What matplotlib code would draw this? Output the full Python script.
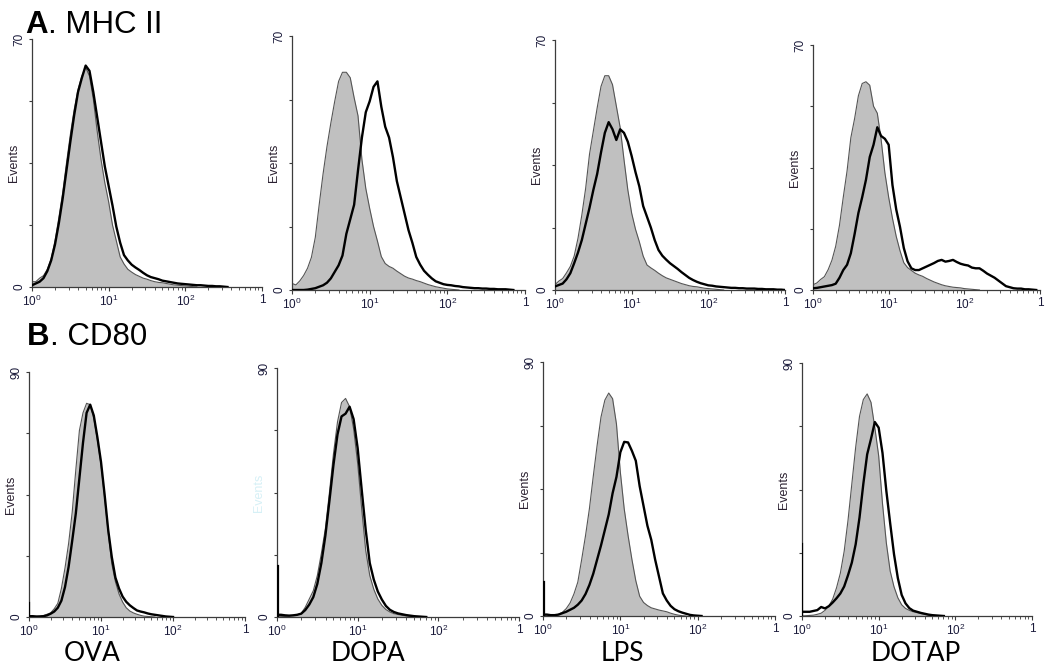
import numpy as np
import matplotlib
matplotlib.use("Agg")
import matplotlib.pyplot as plt
from matplotlib.ticker import FixedLocator, NullFormatter, FixedFormatter

plt.rcParams['font.family'] = ['Liberation Sans', 'DejaVu Sans']
plt.rcParams['mathtext.fontset'] = 'custom'
plt.rcParams['mathtext.rm'] = 'Liberation Sans'
plt.rcParams['mathtext.it'] = 'Liberation Sans'
plt.rcParams['mathtext.bf'] = 'Liberation Sans:bold'
plt.rcParams['mathtext.default'] = 'regular'

# ---------------- data ----------------
# channel positions (log10 of fluorescence intensity)
LOG_FLUOR = [0.00, 0.05, 0.10, 0.15, 0.20, 0.25, 0.30, 0.35, 0.40, 0.45,
             0.50, 0.55, 0.60, 0.65, 0.70, 0.75, 0.80, 0.85, 0.90, 0.95,
             1.00, 1.05, 1.10, 1.15, 1.20, 1.25, 1.30, 1.35, 1.40, 1.45,
             1.50, 1.55, 1.60, 1.65, 1.70, 1.75, 1.80, 1.85, 1.90, 1.95,
             2.00, 2.05, 2.10, 2.15, 2.20, 2.25, 2.30, 2.35, 2.40, 2.45,
             2.50, 2.55, 2.60, 2.65, 2.70, 2.75, 2.80, 2.85, 2.90, 2.95, 3.00]

TREATMENTS = ["OVA", "DOPA", "LPS", "DOTAP"]
MARKERS = ["MHC II", "CD80"]
PANEL_LETTERS = ["A", "B"]
Y_MAX = [70, 90]
X_TICK_LABELS = ["$10^{0}$", "$10^{1}$", "$10^{2}$", "1"]

# Row A: MHC II  (gray = control, black = treated)
MHC_CTRL_OVA = [1.5, 1.5, 2.5, 3.2, 5, 8, 13, 19.5, 26.5, 35, 43, 50, 55.7, 59.5, 62, 59.5, 53, 44, 36, 29.4,
                24, 17.5, 13, 8.5, 6.5, 5, 4.2, 3.5, 3, 2.5, 2.2, 1.8, 1.5, 1.3, 1.2, 1.0, 0.8, 0.6, 0.5, 0.4,
                0.3, 0.2, 0.1, 0]
MHC_TREAT_OVA = [0.5, 1, 1.5, 2.5, 4.5, 7.5, 12, 18, 25, 33, 41, 48.5, 55, 59, 62.5, 61, 55, 48, 41, 34,
                 28.5, 23, 17, 12.5, 9, 7.5, 6.3, 5.5, 4.8, 4, 3.3, 2.8, 2.5, 2.2, 1.8, 1.6, 1.4, 1.2, 1.0, 0.9,
                 0.8, 0.7, 0.6, 0.5, 0.5, 0.4, 0.3, 0.3, 0.2, 0.2, 0.1, 0]
MHC_CTRL_DOPA = [1.8, 1.4, 2.5, 4, 6, 9, 14.5, 23.5, 32, 39.5, 46, 52, 57.5, 60, 60, 58.5, 53, 48, 36, 28,
                 22.5, 17.5, 13.5, 9.2, 7.3, 6.5, 6, 5.2, 4.5, 3.8, 3.3, 3.0, 2.6, 2.3, 1.9, 1.5, 1.2, 0.9, 0.7, 0.5,
                 0.3, 0.2, 0.1, 0]
MHC_TREAT_DOPA = [0, 0, 0, 0, 0.1, 0.3, 0.5, 0.9, 1.3, 2, 3.2, 5, 6.8, 9.5, 15.5, 19.5, 23.5, 33, 42, 49,
                  52, 56, 57.5, 50.5, 45, 42, 36.6, 30, 25.5, 21, 16.5, 13, 9.1, 7, 5.3, 4.2, 3.2, 2.4, 2.0, 1.6,
                  1.4, 1.3, 1.1, 1.0, 0.8, 0.7, 0.6, 0.5, 0.5, 0.4, 0.4, 0.3, 0.3, 0.2, 0.2, 0.2, 0.1, 0]
MHC_CTRL_LPS = [1.5, 2.5, 3.2, 4.8, 6.6, 9.5, 14.5, 21, 28.5, 38, 44.5, 51, 57, 60, 60, 57.5, 51.5, 45.5, 36.5, 28,
                21.5, 17, 13.5, 9.5, 7, 6.2, 5.5, 4.7, 4, 3.4, 3, 2.6, 2.2, 1.8, 1.5, 1.2, 1.0, 0.9, 0.7, 0.5,
                0.4, 0.3, 0.2, 0.1, 0]
MHC_TREAT_LPS = [1.0, 1.4, 1.8, 3, 4.7, 7.5, 10.5, 14, 18.5, 23, 28, 32.5, 38.5, 44, 47, 45, 42, 45, 44, 41.5,
                 37.5, 33, 29, 23.5, 20.5, 17.5, 14, 11.2, 9.6, 8.5, 7.5, 6.7, 5.9, 5, 4.2, 3.4, 2.8, 2.3, 1.9, 1.6,
                 1.3, 1.2, 1.0, 0.9, 0.8, 0.7, 0.6, 0.6, 0.5, 0.5, 0.4, 0.4, 0.4, 0.3, 0.3, 0.2, 0.2, 0.2, 0.1, 0.1, 0]
MHC_CTRL_DOTAP = [1.5, 2.0, 3, 3.8, 5.8, 8.5, 12.5, 18.5, 26.5, 34, 43.5, 49, 55.5, 59, 59.5, 58.5, 52.5, 50.5, 43, 33.5,
                  26.5, 20.5, 15.3, 11.2, 7.8, 6.4, 5.6, 4.8, 4.3, 3.9, 3.3, 2.8, 2.3, 1.9, 1.5, 1.2, 1.0, 0.8, 0.7, 0.6,
                  0.4, 0.3, 0.2, 0.1, 0]
MHC_TREAT_DOTAP = [0.5, 0.6, 0.8, 1.0, 1.2, 1.4, 1.8, 3.5, 5.7, 7.2, 10.5, 16, 22, 26.5, 31.5, 38, 41.5, 46.5, 44, 43.2,
                   41.5, 30, 23, 18, 12, 8.2, 6.2, 5.7, 5.7, 6.2, 6.7, 7.2, 7.7, 8.3, 8.6, 8.1, 8.3, 8.6, 8.0, 7.5,
                   7.2, 7.0, 6.4, 6.2, 6.2, 5.5, 4.7, 4.1, 3.5, 2.7, 1.9, 1.1, 0.8, 0.5, 0.4, 0.4, 0.2, 0.2, 0.1, 0]

# Row B: CD80
CD80_CTRL_OVA = [0, 0, 0.1, 0.3, 0.5, 1.0, 1.5, 3, 5, 10.5, 18, 27, 38.5, 54, 68.5, 75, 78.5, 78, 73, 65,
                 56, 44, 31, 19.5, 13, 8.5, 5.5, 3.4, 2.2, 1.5, 1.0, 0.6, 0.3, 0.2, 0.1, 0]
CD80_TREAT_OVA = [0.3, 0.3, 0.2, 0.2, 0.3, 0.6, 1.2, 2, 3.4, 6, 11, 18.4, 28, 38, 51, 64, 75, 78, 74, 66,
                  57, 45, 32, 22, 14.5, 10.5, 7.5, 5.6, 4.3, 3.3, 2.4, 2.0, 1.7, 1.3, 1.0, 0.8, 0.6, 0.4, 0.2, 0.1, 0]
CD80_CTRL_DOPA = [0.3, 0.2, 0.2, 0.3, 0.6, 0.8, 1.3, 3.5, 6.5, 9.5, 15, 23, 32, 45, 59, 70.5, 77.5, 79, 76, 68,
                  55.5, 39, 24, 15, 10, 6.5, 4.2, 2.7, 1.8, 1.2, 0.9, 0.6, 0.4, 0.2, 0.1, 0]
CD80_TREAT_DOPA = [0.8, 0.8, 0.6, 0.5, 0.6, 0.8, 1.2, 2.5, 4.5, 7.2, 12, 19.5, 29.5, 42, 55, 66, 72.5, 73.5, 76, 71.5,
                   61, 46, 31.4, 19.5, 13.5, 9.2, 6.3, 4, 2.6, 1.8, 1.3, 1.0, 0.7, 0.5, 0.3, 0.2, 0.1, 0]
CD80_CTRL_LPS = [0, 0, 0.1, 0.2, 0.6, 1.3, 2.6, 4.6, 7.8, 12, 20, 28.5, 38, 49.5, 60.5, 70.5, 76.5, 79, 77, 68,
                 51, 38, 28.5, 20, 12.5, 7, 4.8, 3.7, 2.9, 2.5, 2.1, 1.8, 1.5, 1.0, 0.6, 0.3, 0.1, 0]
CD80_TREAT_LPS = [0.5, 0.5, 0.3, 0.3, 0.5, 1.0, 1.5, 2.2, 2.9, 4, 5.5, 7.8, 11, 15, 20, 25, 30.5, 36, 43.5, 49.3,
                  58, 61.7, 61.5, 58.5, 55, 46, 39, 32, 27, 20, 14, 8, 5.5, 3.6, 2.4, 1.7, 1.2, 0.8, 0.4, 0.2, 0.1, 0]
CD80_CTRL_DOTAP = [0, 0.1, 0.2, 0.3, 0.6, 1.0, 2, 3.5, 6, 10, 15.2, 23, 34, 47, 60, 71, 77, 79, 76, 67,
                   57, 40, 26, 16, 10.4, 6.5, 4, 2.7, 2, 1.5, 1.2, 0.9, 0.6, 0.3, 0.1, 0]
CD80_TREAT_DOTAP = [1.5, 1.5, 1.5, 1.8, 2.1, 3.2, 2.7, 3.5, 4.8, 6.3, 8, 10.5, 14.5, 19, 25.5, 35, 47, 57.5, 63, 69,
                    67, 58, 44.5, 33, 22, 13.5, 7.5, 4.5, 2.8, 1.9, 1.5, 1.1, 0.8, 0.5, 0.3, 0.2, 0.1, 0]
# events piled in the lowest channel (treated samples, row B)
CD80_TREAT_FIRST_CHANNEL = [5, 18.5, 12, 25.5]

CONTROLS = [[MHC_CTRL_OVA, MHC_CTRL_DOPA, MHC_CTRL_LPS, MHC_CTRL_DOTAP],
            [CD80_CTRL_OVA, CD80_CTRL_DOPA, CD80_CTRL_LPS, CD80_CTRL_DOTAP]]
TREATED = [[MHC_TREAT_OVA, MHC_TREAT_DOPA, MHC_TREAT_LPS, MHC_TREAT_DOTAP],
           [CD80_TREAT_OVA, CD80_TREAT_DOPA, CD80_TREAT_LPS, CD80_TREAT_DOTAP]]

# ---------------- layout (pixels: left, right, top, bottom) ----------------
W, H = 1050, 668
BOXES = [[(32, 262, 39, 287), (292, 525, 36, 290), (555, 785, 40, 290), (813, 1040, 45, 290)],
         [(29, 245, 372, 617), (277, 519, 368, 617), (543, 775, 362, 616), (802, 1032, 363, 616)]]
LABEL_X = [92, 368, 622, 916]

fig = plt.figure(figsize=(W / 100, H / 100), dpi=100)

SPINE = "#3c3c3c"
FILL = "#c0c0c0"
OUTLINE = "#555555"
TXT = "#1a1a3a"

for r in range(2):
    for c in range(4):
        l, rgt, t, b = BOXES[r][c]
        ax = fig.add_axes([l / W, 1 - b / H, (rgt - l) / W, (b - t) / H])
        xs_all = 10 ** np.array(LOG_FLUOR)
        ctrl = np.array(CONTROLS[r][c], dtype=float)
        trt = np.array(TREATED[r][c], dtype=float)
        xc = xs_all[:len(ctrl)]
        xt = xs_all[:len(trt)]
        ax.fill_between(xc, ctrl, 0, color=FILL, lw=0, zorder=1)
        ax.plot(xc, ctrl, color=OUTLINE, lw=0.8, zorder=2)
        ax.plot(xt, trt, color="black", lw=1.7, zorder=3, solid_joinstyle='round')
        if r == 1:
            ax.plot([1.015, 1.015], [0, CD80_TREAT_FIRST_CHANNEL[c]], color="black", lw=1.6, zorder=3)

        ax.set_xscale("log")
        ax.set_xlim(1, 1000)
        ax.set_ylim(0, Y_MAX[r])
        for s in ["top", "right"]:
            ax.spines[s].set_visible(False)
        for s in ["left", "bottom"]:
            ax.spines[s].set_color(SPINE)
            ax.spines[s].set_linewidth(0.9)
        ax.patch.set_alpha(0)

        ax.xaxis.set_major_locator(FixedLocator([1, 10, 100, 1000]))
        ax.xaxis.set_major_formatter(FixedFormatter(X_TICK_LABELS))
        minors = [m * 10 ** k for k in range(3) for m in range(2, 10)]
        ax.xaxis.set_minor_locator(FixedLocator(minors))
        ax.xaxis.set_minor_formatter(NullFormatter())
        ax.tick_params(axis="x", which="major", length=3, width=0.8, color=SPINE,
                       labelsize=8.5, pad=2, labelcolor=TXT)
        ax.tick_params(axis="x", which="minor", length=1.8, width=0.6, color=SPINE)

        ym = Y_MAX[r]
        ax.yaxis.set_major_locator(FixedLocator([0, ym / 4, ym / 2, 3 * ym / 4, ym]))
        ax.yaxis.set_major_formatter(FixedFormatter(["0", "", "", "", str(ym)]))
        ax.tick_params(axis="y", which="major", length=2.5, width=0.8, color=SPINE,
                       labelsize=8.5, pad=2, labelcolor=TXT)
        for lab in ax.get_yticklabels():
            lab.set_rotation(90)
            lab.set_va("center")
            lab.set_ha("right")

        ev_color = "#d6f0f6" if (r == 1 and c == 1) else "#2a2030"
        fig.text((l - 18) / W, 1 - ((t + b) / 2) / H, "Events", rotation=90,
                 ha="center", va="center", fontsize=9, color=ev_color)

# Row titles
for r, (letter, marker) in enumerate(zip(PANEL_LETTERS, MARKERS)):
    base_y = [33, 345][r]
    x0 = [25, 27][r]
    t1 = fig.text(x0 / W, 1 - base_y / H, letter, fontsize=22.5, fontweight="bold",
                  ha="left", va="baseline", zorder=10)
    fig.canvas.draw()
    bb = t1.get_window_extent(renderer=fig.canvas.get_renderer())
    fig.text(bb.x1 / W, 1 - base_y / H, ". " + marker, fontsize=22.5,
             ha="left", va="baseline", zorder=10)

# Treatment labels below row B
for c, name in enumerate(TREATMENTS):
    fig.text(LABEL_X[c] / W, 1 - 661 / H, name, fontsize=19, family=["Lato", "DejaVu Sans"],
             ha="center", va="baseline")

fig.savefig("out.png", dpi=100)
